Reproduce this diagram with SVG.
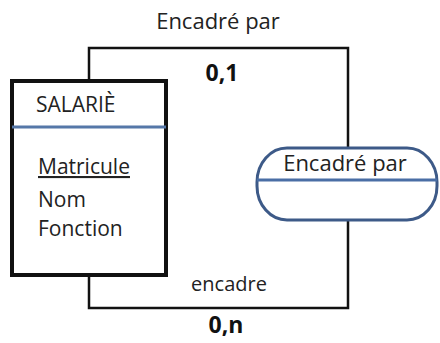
<svg xmlns="http://www.w3.org/2000/svg" width="440" height="343" viewBox="0 0 440 343">
<style>
.t{font-family:"Open Sans","Liberation Sans",sans-serif;fill:#222;font-size:22px}
.a{font-size:21px}
.b{font-family:"Open Sans","Liberation Sans",sans-serif;fill:#111;font-size:23px;font-weight:bold}
.conn{fill:none;stroke:#111;stroke-width:2.5}
</style>
<rect width="440" height="343" fill="#fff"/>
<g id="connectors">
<polyline class="conn" points="89,81 89,48 348,48 348,148"/>
<polyline class="conn" points="89,275 89,308 348,308 348,220"/>
<text class="t" x="218" y="29" text-anchor="middle">Encadré par</text>
<text class="b" x="222" y="81" text-anchor="middle">0,1</text>
<text class="t" x="229" y="291" text-anchor="middle" style="font-size:20px">encadre</text>
<text class="b" x="226" y="333" text-anchor="middle">0,n</text>
</g>
<g id="salarie">
<rect x="12" y="81" width="154" height="194" fill="#fff" stroke="#111" stroke-width="4"/>
<line x1="12" y1="127" x2="166" y2="127" stroke="#5577a8" stroke-width="3"/>
<text class="t a" x="36" y="112">SALARIÈ</text>
<text class="t a" x="38" y="174" text-decoration="underline">Matricule</text>
<text class="t a" x="38" y="207">Nom</text>
<text class="t a" x="38" y="236">Fonction</text>
</g>
<g id="encadre-par">
<rect x="257" y="148" width="180" height="72" rx="30" ry="34" fill="#fff" stroke="#3d5a88" stroke-width="3"/>
<line x1="257" y1="180" x2="437" y2="180" stroke="#4a6ea5" stroke-width="3"/>
<text class="t" x="345" y="171" text-anchor="middle">Encadré par</text>
</g>
</svg>
